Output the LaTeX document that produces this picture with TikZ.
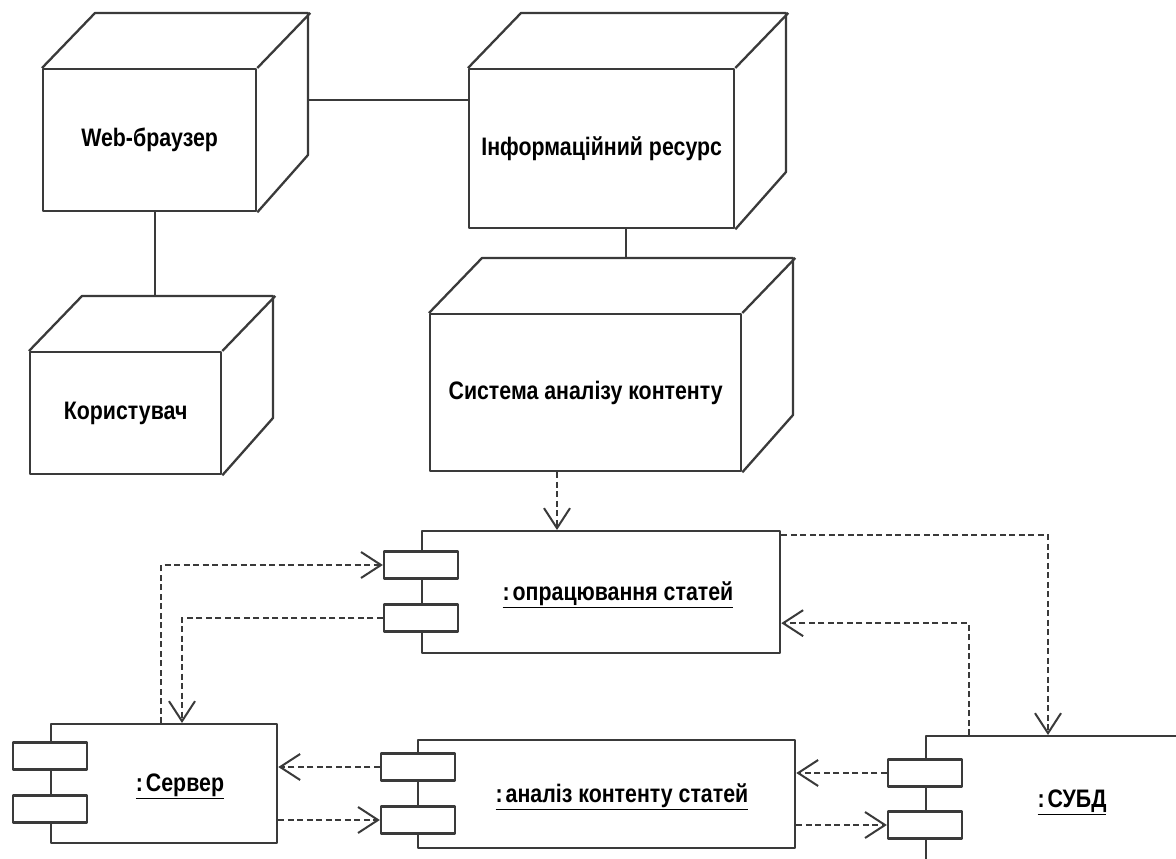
\documentclass[tikz,border=0pt]{standalone}
\usepackage{fontspec}
\setmainfont{Liberation Sans}
\usetikzlibrary{arrows.meta,calc}
\definecolor{ln}{HTML}{3A3A3A}
\newcommand\tallt[1]{\scalebox{0.97}[1.15]{#1}}
\tikzset{
  edge/.style={draw=ln, line width=2.3pt, line join=round},
  front/.style={edge, fill=white, inner sep=0pt, anchor=north west,
    font=\bfseries\fontsize{22}{26}\selectfont},
  comp/.style={edge, fill=white, inner sep=0pt, anchor=north west},
  port/.style={edge, fill=white, inner sep=0pt, minimum width=74pt, minimum height=27pt},
  clabel/.style={font=\bfseries\fontsize{22}{26}\selectfont, inner sep=0pt},
  dep/.style={draw=ln, line width=2pt, dash pattern=on 6pt off 3.5pt,
    -{Straight Barb[length=20pt,width=26pt]}},
}
\newcommand\threed[6]{%
  \node[front, minimum width=#4pt, minimum height=#5pt] (#1) at (#2,#3) {\tallt{#6}};
  \draw[edge] (#1.north west) -- ++(53,-55) -- ++(#4,0) -- ++(0,#5) -- (#1.south east);
  \draw[edge] (#1.north east) -- ++(53,-55);
}
\begin{document}
\begin{tikzpicture}[x=1pt,y=-1pt]
\useasboundingbox (0,0) rectangle (1176,859);
\clip (0,0) rectangle (1176,859);
\fill[white] (0,0) rectangle (1176,859);

% 3D nodes
\threed{web}{42}{68}{213}{142}{Web-браузер}
\threed{inf}{468}{68}{265}{159}{Інформаційний ресурс}
\threed{usr}{29}{351}{191}{122}{Користувач}
\threed{sys}{429}{313}{311}{157}{Система аналізу контенту}

\coordinate (wbr) at (308,100);
\coordinate (ut) at (155,296);
\coordinate (st) at (626,258);
\draw[edge] (wbr) -- (wbr -| inf.west);
\draw[edge] (ut |- web.south) -- (ut);
\draw[edge] (st |- inf.south) -- (st);

% components
\node[comp, minimum width=358pt, minimum height=122pt] (opr) at (421,530) {};
\node[comp, minimum width=226pt, minimum height=119pt] (srv) at (50,723) {};
\node[comp, minimum width=377pt, minimum height=108pt] (an) at (417,739) {};
\node[comp, minimum width=300pt, minimum height=200pt] (db) at (925,735) {};

\node[port] (oprP1) at (421,565) {};
\node[port] (oprP2) at (421,618) {};
\node[port] (srvP1) at (50,756) {};
\node[port] (srvP2) at (50,809) {};
\node[port] (anP1) at (418,767) {};
\node[port] (anP2) at (418,820) {};
\node[port] (dbP1) at (925,773) {};
\node[port] (dbP2) at (925,825) {};

\node[clabel] (oprT) at (618,595) {\tallt{\underline{:\hspace{3pt}опрацювання статей}}};
\node[clabel] (srvT) at (180,786) {\tallt{\underline{:\hspace{3pt}Сервер}}};
\node[clabel] (anT) at (622,797) {\tallt{\underline{:\hspace{3pt}аналіз контенту статей}}};
\node[clabel] (dbT) at (1072,802) {\tallt{\underline{:\hspace{3pt}СУБД}}};

% dependencies
\coordinate (oprTop) at ($(opr.north west)+(136,0)$);
\draw[dep] (oprTop |- sys.south) -- (oprTop);
\draw[dep] ($(srv.north west)+(111,0)$) |- (oprP1.west);
\draw[dep] (oprP2.west) -| ($(srv.north west)+(132,0)$);
\draw[dep] ($(opr.north east)+(0,5)$) -| ($(db.north west)+(123,0)$);
\draw[dep] ($(db.north west)+(44,0)$) |- ($(opr.east)+(0,31)$);
\draw[dep] (anP1.west) -- (anP1.west -| srv.east);
\draw[dep] (srv.east |- anP2.west) -- (anP2.west);
\draw[dep] (dbP1.west) -- (dbP1.west -| an.east);
\draw[dep] (an.east |- dbP2.west) -- (dbP2.west);
\end{tikzpicture}
\end{document}
